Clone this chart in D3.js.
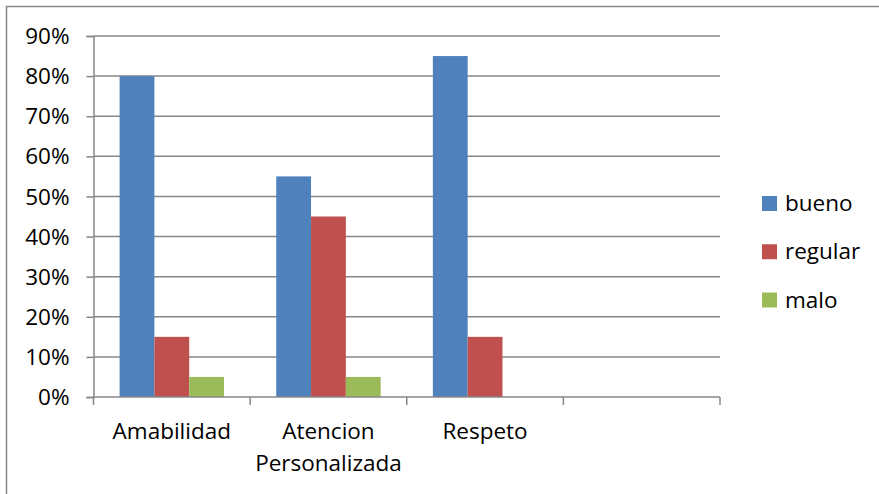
<!DOCTYPE html>
<html>
<head>
<meta charset="utf-8">
<script src="https://cdn.jsdelivr.net/npm/d3@7/dist/d3.min.js"></script>
<style>
  html, body { margin: 0; padding: 0; background: #fff; }
  svg { display: block; }
  text { font-family: "Open Sans", sans-serif; fill: #000; }
</style>
</head>
<body>
<svg id="chart" width="879" height="494"></svg>
<script>
// Categories (the last slot is intentionally empty)
const categories = ["Amabilidad", "Atencion Personalizada", "Respeto", ""];
const seriesNames = ["bueno", "regular", "malo"];
const bueno   = [0.80, 0.55, 0.85, null];
const regular = [0.15, 0.45, 0.15, null];
const malo    = [0.05, 0.05, 0.00, null];
const yTicks  = [0, 0.1, 0.2, 0.3, 0.4, 0.5, 0.6, 0.7, 0.8, 0.9];
const colors  = ["#4F81BD", "#C0504D", "#9BBB59"];

const seriesValues = [bueno, regular, malo];
const rows = categories.map((c, i) => ({
  cat: c,
  vals: seriesNames.map((s, k) => ({ series: s, value: seriesValues[k][i] }))
}));

const svg = d3.select("#chart");
const plot = { left: 93.5, right: 720, top: 36, bottom: 397 };
const gridColor = "#878787";
const fontSize = 22.5;

// Outer chart frame
svg.append("rect")
  .attr("x", 6.5).attr("y", 6.5)
  .attr("width", 900).attr("height", 600)
  .attr("fill", "none").attr("stroke", gridColor).attr("stroke-width", 1.5);

const x0 = d3.scaleBand().domain(d3.range(categories.length))
  .range([plot.left, plot.right]).padding(0);
const x1 = d3.scaleBand().domain(seriesNames)
  .range([0, x0.bandwidth()]).paddingInner(0).paddingOuter(0.75);
const y = d3.scaleLinear().domain([0, 0.9]).range([plot.bottom, plot.top]);

// Horizontal gridlines
svg.append("g").selectAll("line").data(yTicks.filter(t => t > 0)).join("line")
  .attr("x1", plot.left).attr("x2", plot.right)
  .attr("y1", d => y(d)).attr("y2", d => y(d))
  .attr("stroke", gridColor).attr("stroke-width", 1.5);

// Y axis
const yAxis = svg.append("g").attr("transform", `translate(${plot.left},0)`)
  .call(d3.axisLeft(y).tickValues(yTicks).tickFormat(d3.format(".0%")).tickSize(7).tickPadding(17));
yAxis.select(".domain").attr("stroke", gridColor).attr("stroke-width", 1.5);
yAxis.selectAll(".tick line").attr("stroke", gridColor).attr("stroke-width", 1.5);
yAxis.selectAll(".tick text").attr("font-size", fontSize)
  .attr("font-family", "'Open Sans', sans-serif").attr("fill", "#000").attr("dy", "0.34em");

// Bars
const groups = svg.append("g").selectAll("g").data(rows).join("g")
  .attr("transform", (d, i) => `translate(${x0(i)},0)`);
groups.selectAll("rect").data(d => d.vals.filter(v => v.value !== null)).join("rect")
  .attr("x", d => x1(d.series))
  .attr("width", x1.bandwidth())
  .attr("y", d => y(d.value))
  .attr("height", d => y(0) - y(d.value))
  .attr("fill", d => colors[seriesNames.indexOf(d.series)]);

// X axis
const xAxis = svg.append("g").attr("transform", `translate(0,${plot.bottom})`);
xAxis.append("line").attr("x1", plot.left).attr("x2", plot.right)
  .attr("y1", 0).attr("y2", 0).attr("stroke", gridColor).attr("stroke-width", 1.5);
xAxis.selectAll("line.tk").data(d3.range(categories.length + 1)).join("line")
  .attr("class", "tk")
  .attr("x1", i => plot.left + i * x0.bandwidth()).attr("x2", i => plot.left + i * x0.bandwidth())
  .attr("y1", 0).attr("y2", 8).attr("stroke", gridColor).attr("stroke-width", 1.5);

// Category labels (wrapped over two lines where needed)
const labelLines = c => c === "Atencion Personalizada" ? ["Atencion", "Personalizada"] : [c];
xAxis.selectAll("text.cat").data(rows).join("text")
  .attr("class", "cat")
  .attr("text-anchor", "middle")
  .attr("font-size", fontSize)
  .attr("x", (d, i) => x0(i) + x0.bandwidth() / 2)
  .attr("y", 42)
  .each(function(d) {
    const lines = labelLines(d.cat);
    d3.select(this).selectAll("tspan").data(lines).join("tspan")
      .attr("x", d3.select(this).attr("x"))
      .attr("dy", (l, j) => j === 0 ? 0 : 32)
      .text(l => l);
  });

// Legend
const legend = svg.append("g").attr("transform", "translate(762,0)");
const legY = d3.scalePoint().domain(seriesNames).range([203.5, 300]);
legend.selectAll("rect").data(seriesNames).join("rect")
  .attr("x", 0).attr("y", d => legY(d) - 7.5)
  .attr("width", 15).attr("height", 15)
  .attr("fill", (d, i) => colors[i]);
legend.selectAll("text").data(seriesNames).join("text")
  .attr("x", 23).attr("y", d => legY(d) + 7.5)
  .attr("font-size", fontSize)
  .text(d => d);
</script>
</body>
</html>
